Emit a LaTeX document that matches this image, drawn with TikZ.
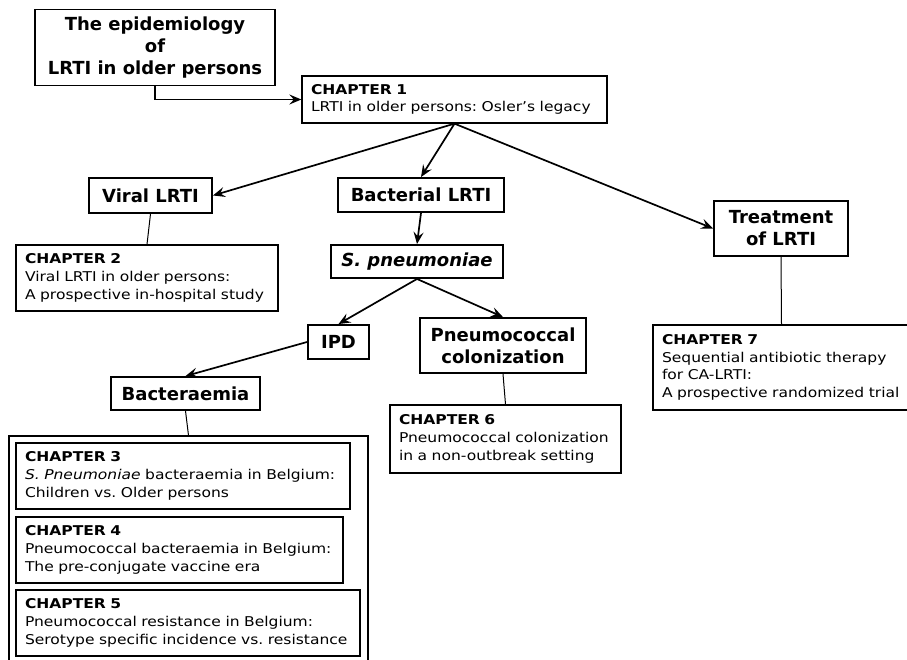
\documentclass[tikz,border=0pt]{standalone}
\usepackage{fontspec}
\setmainfont{DejaVu Sans}
\newfontfamily\chapfont[FakeStretch=1.15]{DejaVu Sans}
\frenchspacing
\usetikzlibrary{arrows.meta}
\begin{document}
\begin{tikzpicture}[x=1pt,y=-1pt,
 head/.style={draw, line width=1.9pt, font=\fontsize{18}{22}\selectfont\bfseries, align=center, inner sep=0pt},
 chap/.style={draw, line width=1.3pt, font=\chapfont\fontsize{13.5}{17.7}\selectfont, align=left, inner xsep=9pt, inner ysep=0pt},
 arr/.style={line width=1.7pt, -{Stealth[length=12pt,width=10pt,inset=4.5pt]}},
 link/.style={line width=1pt}]
\useasboundingbox (0,0) rectangle (907,660);
\clip (0,0) rectangle (907,660);
% heading boxes
\node[head, minimum width=240pt, minimum height=76pt] (title) at (155,47.5) {The epidemiology\\of\\LRTI in older persons};
\node[head, minimum width=123pt, minimum height=35pt] (viral) at (150.5,195.5) {Viral LRTI};
\node[head, minimum width=166pt, minimum height=34pt] (bact) at (421,195) {Bacterial LRTI};
\node[head, minimum width=172pt, minimum height=33pt] (spn) at (417,261.5) {\itshape S. pneumoniae};
\node[head, minimum width=61pt, minimum height=34pt] (ipd) at (338.5,342) {IPD};
\node[head, minimum width=149pt, minimum height=33pt] (bacm) at (185.5,393.5) {Bacteraemia};
\node[head, minimum width=166pt, minimum height=55pt] (pcol) at (503,345.5) {Pneumococcal\\colonization};
\node[head, minimum width=134pt, minimum height=55pt] (treat) at (781,228.5) {Treatment\\of LRTI};
% chapter boxes
\node[chap, text width=287pt, minimum height=47pt] (ch1) at (454.5,99.5) {\textbf{CHAPTER 1}\\LRTI in older persons: Osler’s legacy};
\node[chap, text width=244pt, minimum height=66pt] (ch2) at (147,278) {\textbf{CHAPTER 2}\\Viral LRTI in older persons:\\A prospective in-hospital study};
\node[draw, line width=1.3pt, minimum width=359pt, minimum height=264pt, inner sep=0pt] (outer) at (188.5,568) {};
\node[chap, text width=316pt, minimum height=66pt] (ch3) at (183,476) {\textbf{CHAPTER 3}\\\textit{S. Pneumoniae} bacteraemia in Belgium:\\Children vs. Older persons};
\node[chap, text width=309pt, minimum height=66pt] (ch4) at (179.5,550) {\textbf{CHAPTER 4}\\Pneumococcal bacteraemia in Belgium:\\The pre-conjugate vaccine era};
\node[chap, text width=326pt, minimum height=66pt] (ch5) at (188,623) {\textbf{CHAPTER 5}\\Pneumococcal resistance in Belgium:\\Serotype specific incidence vs. resistance};
\node[chap, text width=213pt, minimum height=68pt] (ch6) at (505.5,439) {\textbf{CHAPTER 6}\\Pneumococcal colonization\\in a non-outbreak setting};
\node[chap, text width=239pt, minimum height=85pt] (ch7) at (781.5,367.5) {\textbf{CHAPTER 7}\\Sequential antibiotic therapy\\for CA-LRTI:\\A prospective randomized trial};
% connectors
\draw[arr] (title.south) |- (ch1.west);
\draw[arr] (ch1.south) -- (viral.east);
\draw[arr] (ch1.south) -- (bact.north);
\draw[arr] (ch1.south) -- (treat.west);
\draw[link] (viral.south) -- (ch2.north);
\draw[arr] (bact.south) -- (spn.north);
\draw[arr] (spn.south) -- (ipd.north);
\draw[arr] (spn.south) -- (pcol.north);
\draw[arr] (ipd.west) -- (bacm.north);
\draw[link] (bacm.south) -- (outer.north);
\draw[link] (pcol.south) -- (ch6.north);
\draw[link] (treat.south) -- (ch7.north);
\end{tikzpicture}
\end{document}
